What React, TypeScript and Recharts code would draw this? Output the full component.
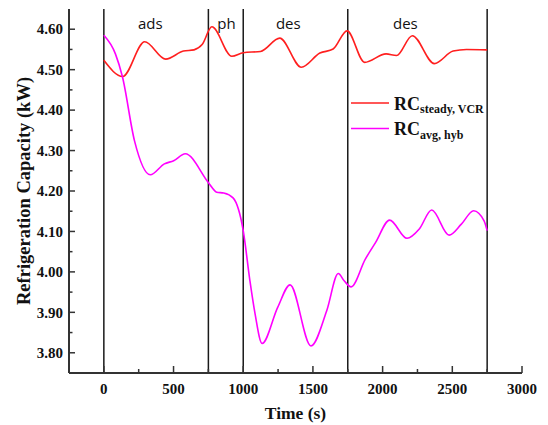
import React from 'react';
import { LineChart, Line, XAxis, YAxis, ReferenceLine, ReferenceDot, Legend } from 'recharts';

// ---- data ----
const timeSteady = [0, 135, 293, 444, 571, 647, 705, 775, 918, 1000, 1124, 1262, 1417, 1550, 1645, 1745, 1871, 2025, 2100, 2213, 2371, 2506, 2602, 2750];
const rcSteady = [4.523, 4.483, 4.569, 4.526, 4.546, 4.549, 4.562, 4.606, 4.533, 4.542, 4.545, 4.578, 4.506, 4.541, 4.551, 4.596, 4.518, 4.539, 4.535, 4.584, 4.515, 4.546, 4.55, 4.549];

const timeHyb = [0, 83, 133, 220, 333, 434, 501, 584, 752, 810, 860, 927, 1000, 1048, 1085, 1135, 1248, 1336, 1486, 1599, 1682, 1724, 1774, 1875, 1950, 2050, 2175, 2263, 2352, 2477, 2565, 2653, 2728, 2750];
const rcHyb = [4.585, 4.539, 4.483, 4.324, 4.24, 4.267, 4.275, 4.292, 4.22, 4.197, 4.195, 4.183, 4.102, 3.978, 3.896, 3.823, 3.913, 3.968, 3.817, 3.904, 3.996, 3.978, 3.963, 4.031, 4.073, 4.128, 4.083, 4.106, 4.153, 4.091, 4.118, 4.151, 4.126, 4.102];

const phaseBounds = [0, 750, 1000, 1750, 2750];
const phaseLabels = ['ads', 'ph', 'des', 'des'];
const phaseLabelX = [333, 880, 1323, 2163];
const phaseLabelY = 4.613;

const xMajorTicks = [0, 500, 1000, 1500, 2000, 2500, 3000];
const xMinorTicks = [250, 750, 1250, 1750, 2250, 2750];
const yMajorTicks = [3.8, 3.9, 4.0, 4.1, 4.2, 4.3, 4.4, 4.5, 4.6];
const yMinorTicks = [3.85, 3.95, 4.05, 4.15, 4.25, 4.35, 4.45, 4.55];

const seriesNames = ['steady, VCR', 'avg, hyb'];
const seriesColors = ['#ff1f1f', '#ff00ff'];

const xDomain = [-250, 3000];
const yDomain = [3.75, 4.65];

const steadyData = timeSteady.map((t, i) => ({ t, v: rcSteady[i] }));
const hybData = timeHyb.map((t, i) => ({ t, v: rcHyb[i] }));
const xTicks = [...xMajorTicks, ...xMinorTicks].sort((a, b) => a - b);
const yTicks = [...yMajorTicks, ...yMinorTicks].sort((a, b) => a - b);

const SERIF = '"Liberation Serif", "Times New Roman", serif';
const AXIS = '#333';

const XTick = (props: any) => {
  const { x, y, payload } = props;
  const v = payload.value;
  const major = xMajorTicks.includes(v);
  return (
    <g>
      <line x1={x} x2={x} y1={y} y2={y - (major ? 7 : 4)} stroke={AXIS} strokeWidth={1.5} />
      {major && (
        <text x={x} y={y + 21} textAnchor="middle" fontFamily={SERIF} fontWeight="bold" fontSize={15} fill="#111">
          {v}
        </text>
      )}
    </g>
  );
};

const YTick = (props: any) => {
  const { x, y, payload } = props;
  const v = payload.value;
  const major = yMajorTicks.some((m) => Math.abs(m - v) < 1e-6);
  return (
    <g>
      <line x1={x} x2={x + (major ? 6 : 3.5)} y1={y} y2={y} stroke={AXIS} strokeWidth={1.5} />
      {major && (
        <text x={x - 6} y={y} dy="0.35em" textAnchor="end" fontFamily={SERIF} fontWeight="bold" fontSize={15} fill="#111">
          {v.toFixed(2)}
        </text>
      )}
    </g>
  );
};

const LegendContent = () => (
  <svg width={190} height={52} style={{ display: 'block' }}>
    {seriesNames.map((n, i) => (
      <g key={n}>
        <line x1={6} x2={44} y1={12 + i * 25.5} y2={12 + i * 25.5} stroke={seriesColors[i]} strokeWidth={1.5} />
        <text x={49} y={18.5 + i * 25.5} fontFamily={SERIF} fontWeight="bold" fontSize={18} fill="#111">
          RC
          <tspan fontSize={12} dy={3.5}>{n}</tspan>
        </text>
      </g>
    ))}
  </svg>
);

export default function App() {
  return (
    <div style={{ position: 'absolute', left: 0, top: 0, background: '#fff' }}>
      <LineChart width={548} height={425} margin={{ top: 9, right: 26, bottom: 0, left: 0 }}>
        <XAxis
          dataKey="t"
          type="number"
          domain={xDomain}
          ticks={xTicks}
          interval={0}
          allowDuplicatedCategory={false}
          height={52}
          tickSize={0}
          tickMargin={0}
          tickLine={false}
          tick={<XTick />}
          axisLine={{ stroke: AXIS, strokeWidth: 2 }}
          label={{ value: 'Time (s)', position: 'insideBottom', offset: 6, fontFamily: SERIF, fontWeight: 'bold', fontSize: 17.5, fill: '#111' }}
        />
        <XAxis xAxisId="top" orientation="top" type="number" domain={xDomain} height={0} tick={false} tickLine={false} axisLine={{ stroke: AXIS, strokeWidth: 2 }} />
        <YAxis
          type="number"
          domain={yDomain}
          ticks={yTicks}
          interval={0}
          width={69}
          tickSize={0}
          tickMargin={0}
          tickLine={false}
          tick={<YTick />}
          axisLine={{ stroke: AXIS, strokeWidth: 2 }}
          label={{ value: 'Refrigeration Capacity (kW)', angle: -90, position: 'insideLeft', offset: 23, fontFamily: SERIF, fontWeight: 'bold', fontSize: 18.5, fill: '#111', style: { textAnchor: 'middle' } }}
        />
        <YAxis yAxisId="right" orientation="right" type="number" domain={yDomain} width={0} tick={false} tickLine={false} axisLine={{ stroke: AXIS, strokeWidth: 2 }} />
        {phaseBounds.map((b) => (
          <ReferenceLine key={b} x={b} stroke="#1a1a1a" strokeWidth={1.5} />
        ))}
        {phaseLabels.map((l, i) => (
          <ReferenceDot
            key={i}
            x={phaseLabelX[i]}
            y={phaseLabelY}
            r={0}
            stroke="none"
            fill="none"
            label={{ value: l, position: 'center', fontFamily: '"Open Sans", sans-serif', fontSize: 15, fill: '#111' }}
          />
        ))}
        <Line data={steadyData} dataKey="v" type="monotone" stroke={seriesColors[0]} strokeWidth={1.6} dot={false} isAnimationActive={false} name={seriesNames[0]} />
        <Line data={hybData} dataKey="v" type="monotone" stroke={seriesColors[1]} strokeWidth={1.6} dot={false} isAnimationActive={false} name={seriesNames[1]} />
        <Legend
          layout="vertical"
          verticalAlign="middle"
          align="center"
          content={<LegendContent />}
          wrapperStyle={{ position: 'absolute', left: 345, top: 91, width: 190, height: 52 }}
        />
      </LineChart>
    </div>
  );
}
